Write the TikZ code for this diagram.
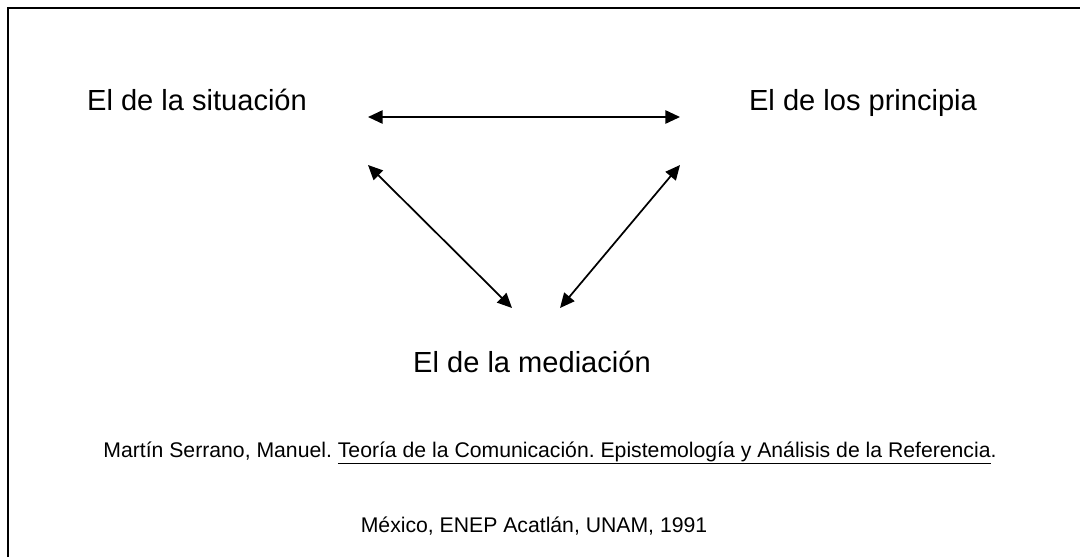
\documentclass[tikz,border=0pt]{standalone}
\usepackage{fontspec}
\setmainfont{Liberation Sans}
\usetikzlibrary{arrows.meta}
\frenchspacing
\begin{document}
\begin{tikzpicture}[x=0.75pt,y=-0.75pt,
  big/.style={font=\fontsize{21.8}{26}\selectfont, inner sep=0pt, anchor=base},
  small/.style={font=\fontsize{15.9}{19}\selectfont, inner sep=0pt, anchor=base},
  link/.style={line width=1.3pt, {Triangle[length=11pt,width=10pt]}-{Triangle[length=11pt,width=10pt]}}]
\useasboundingbox (0,0) rectangle (1080,557);
\fill[white] (0,0) rectangle (1080,557);
\draw[line width=1.5pt] (7.5,557) -- (7.5,7.5) -- (1080,7.5);
\node[big] (sit) at (197,110) {El de la situación};
\node[big] (prin) at (863,110) {El de los principia};
\node[big] (med) at (532,372) {El de la mediación};
\node[small] (cite) at (550,457) {\frenchspacing Martín Serrano, Manuel. \underline{Teoría de la Comunicación. Epistemología y Análisis de la Referencia}.};
\node[small] (mex) at (534,532) {México, ENEP Acatlán, UNAM, 1991};
\coordinate (h1) at (368,117);
\coordinate (h2) at (680,117);
\coordinate (l1) at (368,165);
\coordinate (l2) at (512,308);
\coordinate (r1) at (680,165);
\coordinate (r2) at (560,308);
\draw[link] (h1) -- (h2);
\draw[link] (l1) -- (l2);
\draw[link] (r1) -- (r2);
\end{tikzpicture}
\end{document}
